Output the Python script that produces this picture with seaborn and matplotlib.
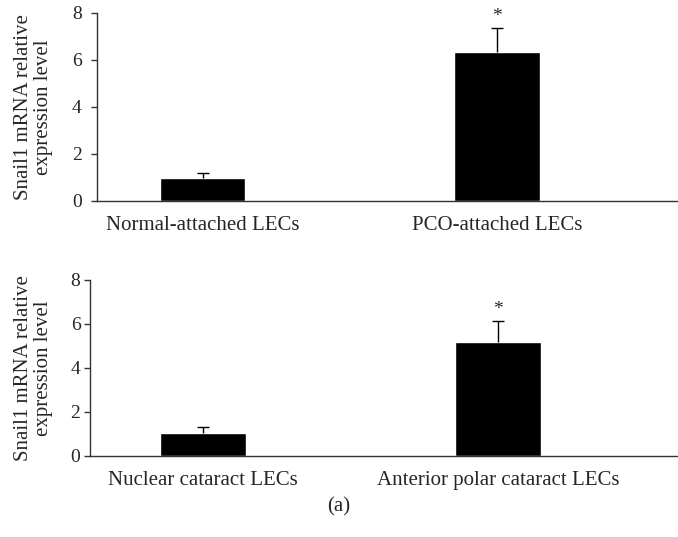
import matplotlib
matplotlib.use("Agg")
import matplotlib.pyplot as plt
import seaborn as sns
import pandas as pd

# Snail1 expression, panel 1: attached LECs
groups_top = ["Normal-attached LECs", "PCO-attached LECs"]
means_top = [0.97, 6.32]
errs_top = [0.21, 1.05]

# Snail1 expression, panel 2: cataract LECs
groups_bottom = ["Nuclear cataract LECs", "Anterior polar cataract LECs"]
means_bottom = [1.02, 5.17]
errs_bottom = [0.30, 0.96]

yticks = [0, 2, 4, 6, 8]
ylabel = "Snail1 mRNA relative\nexpression level"
panel_label = "(a)"

sns.set_theme(style="white")
plt.rcParams["font.family"] = ["Liberation Serif", "DejaVu Serif"]

fig = plt.figure(figsize=(6.78, 5.37), dpi=100)
ax_top = fig.add_axes([0.143, 0.626, 0.857, 0.350])
ax_bot = fig.add_axes([0.133, 0.151, 0.867, 0.328])


def draw_panel(ax, groups, means, errs, xlim, tick_pad, label_x):
    df = pd.DataFrame({"group": groups, "mean": means})
    sns.barplot(data=df, x="group", y="mean", color="black", width=0.29,
                saturation=1, errorbar=None, ax=ax)
    xs = list(range(len(groups)))
    _, caps, _ = ax.errorbar(xs, means, yerr=[[0] * len(errs), errs],
                             fmt="none", ecolor="black", elinewidth=1.0,
                             capsize=4.5, capthick=1.0)
    # one-sided bars: keep only the upper cap
    caps[0].set_visible(False)
    # significance marker above the second bar
    ax.text(xs[1], means[1] + errs[1] + 0.12, "*", ha="center", va="bottom",
            fontsize=14)
    ax.set_ylim(0, 8)
    ax.set_xlim(*xlim)
    ax.set_yticks(yticks)
    ax.set_xlabel("")
    ax.set_ylabel(ylabel, fontsize=15, linespacing=1.05)
    ax.yaxis.set_label_coords(label_x, 0.5)
    ax.tick_params(axis="y", which="both", left=True, length=4, width=1,
                   color="#333333", labelsize=14, pad=tick_pad)
    ax.tick_params(axis="x", bottom=False, labelsize=15, pad=5)
    for side in ("top", "right"):
        ax.spines[side].set_visible(False)
    for side in ("left", "bottom"):
        ax.spines[side].set_color("#333333")
        ax.spines[side].set_linewidth(1.0)


draw_panel(ax_top, groups_top, means_top, errs_top, (-0.359, 1.614),
           tick_pad=7, label_x=-0.076)
draw_panel(ax_bot, groups_bottom, means_bottom, errs_bottom, (-0.381, 1.608),
           tick_pad=3, label_x=-0.063)

fig.text(0.5, 0.057, panel_label, ha="center", va="center", fontsize=15)

fig.savefig("out.png", dpi=100)
